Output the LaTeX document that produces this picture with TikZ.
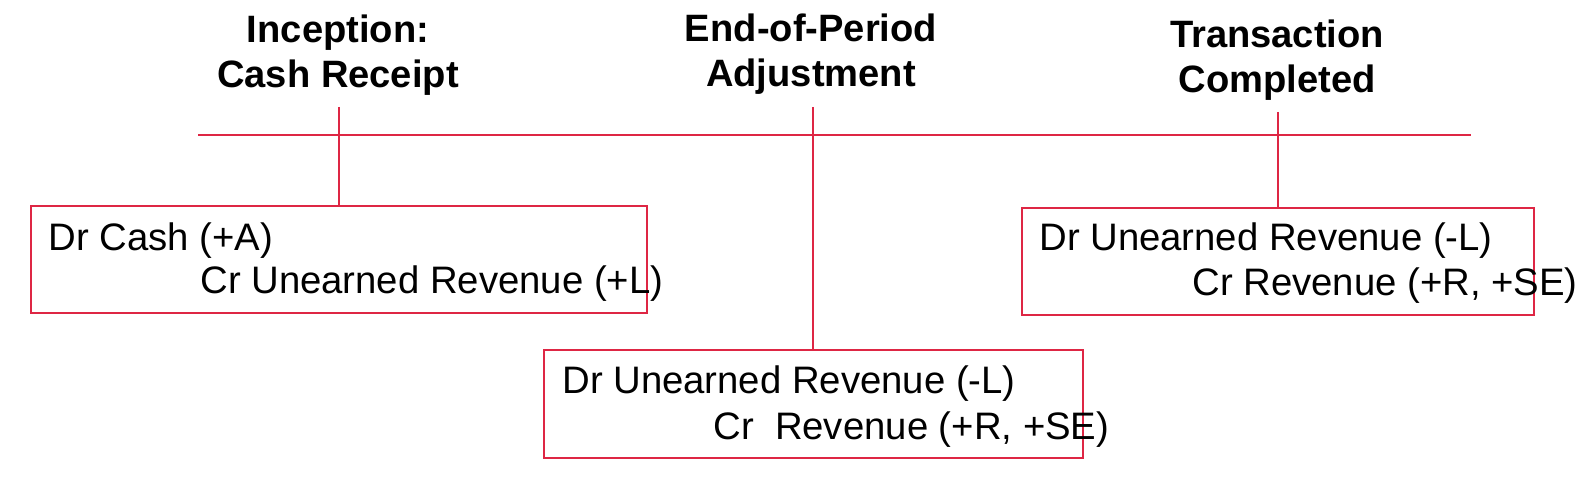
\documentclass[tikz,border=0pt]{standalone}
\usepackage{fontspec}
\setmainfont{Liberation Sans}
\definecolor{tl}{RGB}{222,38,68}
\begin{document}
\begin{tikzpicture}[x=0.02cm,y=-0.02cm,
  tline/.style={draw=tl,line width=1.1pt},
  jbox/.style={draw=tl,line width=1.1pt,rectangle,inner sep=0pt,anchor=north west},
  ttl/.style={font=\fontsize{21.7}{26}\selectfont\bfseries,anchor=base,inner sep=0pt},
  jtxt/.style={font=\fontsize{21.8}{26}\selectfont,anchor=base west,inner sep=0pt}]
\useasboundingbox (0,0) rectangle (1591,499);
% titles
\node[ttl] (t1a) at (338,43) {Inception:};
\node[ttl] (t1b) at (338,88) {Cash Receipt};
\node[ttl] (t2a) at (811,42) {End-of-Period};
\node[ttl] (t2b) at (811,87) {Adjustment};
\node[ttl] (t3a) at (1277,48) {Transaction};
\node[ttl] (t3b) at (1277,93) {Completed};
% timeline
\coordinate (ls) at (198,135);
\coordinate (le) at (1471,135);
\draw[tline] (ls) -- (le);
% boxes
\node[jbox,minimum width=12.32cm,minimum height=2.14cm] (b1) at (30,205) {};
\node[jbox,minimum width=10.78cm,minimum height=2.16cm] (b2) at (543,349) {};
\node[jbox,minimum width=10.24cm,minimum height=2.14cm] (b3) at (1021,207) {};
% connectors
\coordinate (c1) at (b1.north |- 0,107);
\coordinate (c2) at (b2.north |- 0,107);
\coordinate (c3) at (b3.north |- 0,112);
\draw[tline] (c1) -- (b1.north);
\draw[tline] (c2) -- (b2.north);
\draw[tline] (c3) -- (b3.north);
% entries
\node[jtxt] (e1a) at (48,251) {Dr Cash (+A)};
\node[jtxt] (e1b) at (200,294) {Cr Unearned Revenue (+L)};
\node[jtxt] (e2a) at (562,394) {Dr Unearned Revenue (-L)};
\node[jtxt] (e2b) at (713,439) {Cr\ \ Revenue (+R, +SE)};
\node[jtxt] (e3a) at (1039,251) {Dr Unearned Revenue (-L)};
\node[jtxt] (e3b) at (1192,296) {Cr Revenue (+R, +SE)};
\end{tikzpicture}
\end{document}
